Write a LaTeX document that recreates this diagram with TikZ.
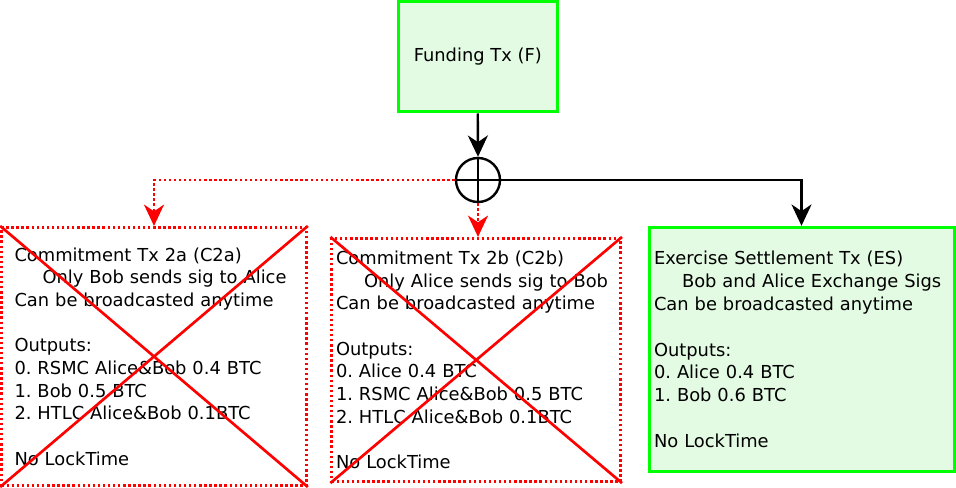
\documentclass[tikz,border=0pt]{standalone}
\usepackage{fontspec}
\setmainfont{DejaVu Sans}
\usetikzlibrary{
    arrows.meta,
    positioning
}
\frenchspacing
\definecolor{txGreen}{RGB}{0,255,0}
\definecolor{txFill} {RGB}{227,250,227}
\definecolor{revRed} {RGB}{255,0,0}
\newcommand{\txfont}{\fontsize{13.4}{17}\selectfont}
\tikzset{
  txbox/.style   = {draw=txGreen, fill=txFill, line width=2.25pt,
                    align=left, font=\txfont, inner ysep=0pt},
  revoked/.style = {draw=revRed, line width=2pt,
                    dash pattern=on 1.8pt off 2pt,
                    align=left, font=\txfont, inner ysep=0pt},
  xorop/.style   = {draw, circle, line width=1.8pt, minimum size=33pt,
                    inner sep=0pt},
  arr/.style     = {-{Stealth[length=16pt, width=15pt, inset=5pt]},
                    line width=1.8pt},
  arrr/.style    = {arr, revRed, dash pattern=on 1.8pt off 2pt},
  cross/.style   = {revRed, line width=2pt}
}

\begin{document}
\begin{tikzpicture}[x=0.75pt, y=-0.75pt]
  \useasboundingbox (0,0) rectangle (956,488);

  %% ── Funding ───────────────────────────────────────────────────
  \node[txbox, align=center, minimum width=119.6pt, minimum height=82.5pt]
    (fundTx) at (477.75, 57) {Funding Tx (F)};

  %% ── Split ─────────────────────────────────────────────────────
  \node[xorop] (xor) at (478, 180) {};
  \draw[line width=1.8pt] (xor.north) -- (xor.south)
                          (xor.west)  -- (xor.east);

  %% ── Commitments (revoked) ─────────────────────────────────────
  \node[revoked, inner xsep=9.75pt, text width=209.25pt,
        minimum height=193.8pt] (comA) at (154, 356.5) {%
    Commitment Tx 2a (C2a)\\
    \hspace*{21pt}Only Bob sends sig to Alice\\
    Can be broadcasted anytime\\[17pt]
    Outputs:\\
    0. RSMC Alice\&Bob 0.4 BTC\\
    1. Bob 0.5 BTC\\
    2. HTLC Alice\&Bob 0.1BTC\\[17pt]
    No LockTime};
  \node[revoked, inner xsep=3.2pt, text width=210.3pt,
        minimum height=182.6pt] (comB) at (476.2, 360) {%
    Commitment Tx 2b (C2b)\\
    \hspace*{21pt}Only Alice sends sig to Bob\\
    Can be broadcasted anytime\\[17pt]
    Outputs:\\
    0. Alice 0.4 BTC\\
    1. RSMC Alice\&Bob 0.5 BTC\\
    2. HTLC Alice\&Bob 0.1BTC\\[17pt]
    No LockTime};

  % crossed out
  \draw[cross] (comA.north west) -- (comA.south east)
               (comA.north east) -- (comA.south west);
  \draw[cross] (comB.north west) -- (comB.south east)
               (comB.north east) -- (comB.south west);

  %% ── Settlement ────────────────────────────────────────────────
  \node[txbox, inner xsep=3.75pt, text width=221.25pt,
        minimum height=183.3pt] (settle) at (801.5, 349.5) {%
    Exercise Settlement Tx (ES)\\
    \hspace*{21pt}Bob and Alice Exchange Sigs\\
    Can be broadcasted anytime\\[17.5pt]
    Outputs:\\
    0. Alice 0.4 BTC\\
    1. Bob 0.6 BTC\\[17.5pt]
    No LockTime};

  %% ── Arrows ────────────────────────────────────────────────────
  \draw[arr]  (fundTx.south) -- (xor.north);
  \draw[arr]  (xor.east) -| (settle.north);
  \draw[arrr] (xor.west) -| (comA.north);
  \draw[arrr] (xor.south) -- (xor.south |- comB.north);

\end{tikzpicture}
\end{document}
